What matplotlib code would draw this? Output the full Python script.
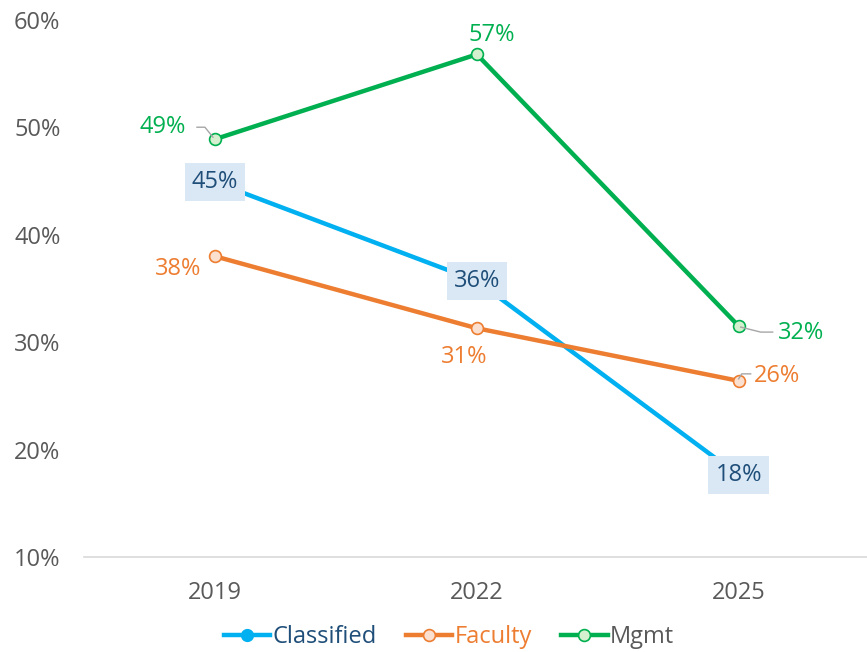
import matplotlib
matplotlib.use("Agg")
import matplotlib.pyplot as plt
from matplotlib.lines import Line2D

plt.rcParams['font.family'] = ['Open Sans', 'DejaVu Sans']

years = ["2019", "2022", "2025"]
classified = [44.9, 35.7, 17.6]
faculty = [38.0, 31.3, 26.4]
mgmt = [48.9, 56.8, 31.5]
classified_labels = ["45%", "36%", "18%"]
faculty_labels = ["38%", "31%", "26%"]
mgmt_labels = ["49%", "57%", "32%"]
yticks = [10, 20, 30, 40, 50, 60]

C_BLUE = "#00B0F0"
C_ORANGE = "#ED7D31"
C_GREEN = "#00B050"
C_TEXT = "#595959"
C_DARK = "#1F4E79"
FS = 17

fig = plt.figure(figsize=(8.67, 6.52), dpi=100)
W, H = 867, 652
ax = fig.add_axes([84 / W, (H - 557) / H, 783 / W, (557 - 20) / H])

x = list(range(len(years)))
ax.plot(x, classified, color=C_BLUE, lw=3.2, marker='o', ms=8.5, mfc=C_BLUE, mec=C_BLUE,
        solid_capstyle='round', zorder=3)
ax.plot(x, faculty, color=C_ORANGE, lw=3.2, marker='o', ms=8.5, mfc="#FBE0D0", mec=C_ORANGE,
        mew=1.2, zorder=3)
ax.plot(x, mgmt, color=C_GREEN, lw=3.2, marker='o', ms=8.5, mfc="#D5F0CF", mec=C_GREEN,
        mew=1.2, zorder=4)

ax.set_xlim(-0.5, 2.49)
ax.set_ylim(10, 60)
ax.set_xticks(x)
ax.set_xticklabels(years)
ax.set_yticks(yticks)
ax.set_yticklabels([f"{v}%" for v in yticks])
for s in ['top', 'right', 'left']:
    ax.spines[s].set_visible(False)
ax.spines['bottom'].set_color("#D9D9D9")
ax.spines['bottom'].set_linewidth(1.2)
ax.tick_params(axis='both', length=0, labelsize=FS, labelcolor=C_TEXT)
ax.tick_params(axis='y', pad=17)
ax.tick_params(axis='x', pad=17)

# Classified labels: boxed, centered on point
for xi, v, t in zip(x, classified, classified_labels):
    ax.annotate(t, (xi, v), ha='center', va='center', fontsize=FS, color=C_DARK,
                bbox=dict(boxstyle='square,pad=0.3', fc="#DAE8F5", ec='none'), zorder=6)

# Faculty labels
fac_off = [(-37, -13), (-13, -29), (38, 5)]
for xi, v, t, o in zip(x, faculty, faculty_labels, fac_off):
    ax.annotate(t, (xi, v), xytext=o, textcoords='offset pixels', ha='center', va='center',
                fontsize=FS, color=C_ORANGE, zorder=6)
# Mgmt labels
mg_off = [(-52, 12), (15, 19), (62, -7)]
for xi, v, t, o in zip(x, mgmt, mgmt_labels, mg_off):
    ax.annotate(t, (xi, v), xytext=o, textcoords='offset pixels', ha='center', va='center',
                fontsize=FS, color=C_GREEN, zorder=6)

# leader lines (gray)
def leader(xi, v, pts):
    px, py = ax.transData.transform((xi, v))
    inv = ax.transData.inverted()
    xs, ys = [], []
    for dx, dy in pts:
        a, b = inv.transform((px + dx, py + dy))
        xs.append(a); ys.append(b)
    ax.plot(xs, ys, color="#A6A6A6", lw=1, zorder=5)

fig.canvas.draw()
leader(0, mgmt[0], [(-2, 2), (-10, 12), (-18, 12)])
leader(2, mgmt[2], [(2, -1), (22, -6), (34, -6)])
leader(2, faculty[2], [(0, 2), (3, 7), (12, 7)])

handles = [
    Line2D([], [], color=C_BLUE, lw=3.2, marker='o', ms=8.5, mfc=C_BLUE, mec=C_BLUE),
    Line2D([], [], color=C_ORANGE, lw=3.2, marker='o', ms=8.5, mfc="#FBE0D0", mec=C_ORANGE, mew=1.2),
    Line2D([], [], color=C_GREEN, lw=3.2, marker='o', ms=8.5, mfc="#D5F0CF", mec=C_GREEN, mew=1.2),
]
leg = fig.legend(handles, ["Classified", "Faculty", "Mgmt"], loc='center',
                 bbox_to_anchor=(449 / W, (H - 637) / H), ncol=3, frameon=False,
                 fontsize=FS, handlelength=1.95, handletextpad=0.1, columnspacing=1.25)
for t, c in zip(leg.get_texts(), [C_DARK, C_ORANGE, C_TEXT]):
    t.set_color(c)

fig.savefig("out.png", dpi=100)
